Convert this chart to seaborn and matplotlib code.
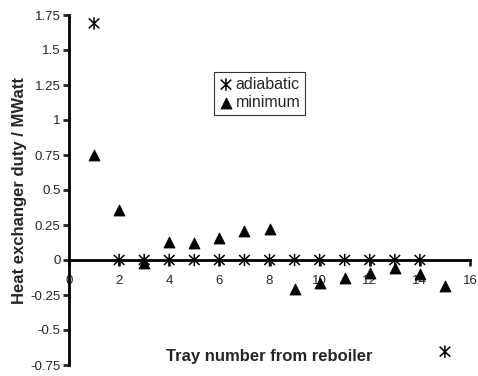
import matplotlib
matplotlib.use("Agg")
import matplotlib.pyplot as plt
from matplotlib.path import Path
import seaborn as sns
import pandas as pd

# data
trays = [1, 2, 3, 4, 5, 6, 7, 8, 9, 10, 11, 12, 13, 14, 15]
adiabatic = [1.69, 0, 0, 0, 0, 0, 0, 0, 0, 0, 0, 0, 0, 0, -0.655]
minimum = [0.75, 0.36, -0.02, 0.13, 0.12, 0.157, 0.21, 0.22, -0.21, -0.165, -0.126, -0.09, -0.06, -0.10, -0.186]
xticks = [0, 2, 4, 6, 8, 10, 12, 14, 16]
yticks = [-0.75, -0.5, -0.25, 0, 0.25, 0.5, 0.75, 1, 1.25, 1.5, 1.75]
ytick_labels = ["-0.75", "-0.5", "-0.25", "0", "0.25", "0.5", "0.75", "1", "1.25", "1.5", "1.75"]

df = pd.DataFrame({"tray": trays, "adiabatic": adiabatic, "minimum": minimum})

# excel style asterisk: vertical bar plus an X
star = Path([(0, -1), (0, 1), (-0.85, -0.8), (0.85, 0.8), (-0.85, 0.8), (0.85, -0.8)],
            [Path.MOVETO, Path.LINETO, Path.MOVETO, Path.LINETO, Path.MOVETO, Path.LINETO])

sns.set_style("white")
plt.rcParams["font.family"] = ["Liberation Sans", "DejaVu Sans"]

fig = plt.figure(figsize=(4.78, 3.76), dpi=100)
ax = fig.add_axes([69 / 478, 11 / 376, 401 / 478, 350 / 376])

sns.scatterplot(data=df, x="tray", y="adiabatic", marker=star, s=80,
                facecolor="none", edgecolor="black", linewidth=1.1,
                label="adiabatic", ax=ax, zorder=3)
sns.scatterplot(data=df, x="tray", y="minimum", marker="^", s=62,
                color="black", edgecolor="black", label="minimum", ax=ax, zorder=3)

ax.set_xlim(0, 16)
ax.set_ylim(-0.75, 1.75)
ax.set_xticks(xticks)
ax.set_yticks(yticks)
ax.set_yticklabels(ytick_labels)

for s in ["top", "right"]:
    ax.spines[s].set_visible(False)
ax.spines["left"].set_position(("data", 0))
ax.spines["bottom"].set_position(("data", 0))
for s in ["left", "bottom"]:
    ax.spines[s].set_linewidth(2)
    ax.spines[s].set_color("black")
ax.tick_params(axis="y", direction="out", length=4, width=2, labelsize=9.5, pad=2, left=True)
ax.tick_params(axis="x", direction="out", length=4, width=2, labelsize=9.5, pad=7, bottom=True)

ax.set_xlabel("Tray number from reboiler", fontsize=12, fontweight="bold")
ax.xaxis.set_label_coords(0.5, 0.045)
ax.set_ylabel("Heat exchanger duty / MWatt", fontsize=12, fontweight="bold")
ax.yaxis.set_label_coords(-0.105, 0.5)

leg = ax.legend(loc="upper left", bbox_to_anchor=((214 - 69) / 401, (365 - 72) / 350),
                fontsize=11.5, frameon=True, fancybox=False, handletextpad=0.15,
                handlelength=0.9, borderpad=0.3, labelspacing=0.2, borderaxespad=0)
leg.get_frame().set_edgecolor("black")
leg.get_frame().set_linewidth(0.8)

fig.savefig("out.png", dpi=100)
